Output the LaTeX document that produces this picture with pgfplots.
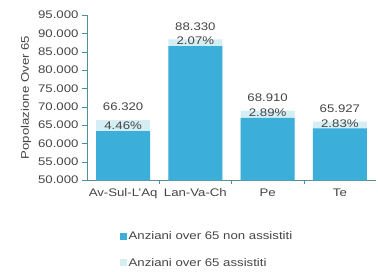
\documentclass[border=0pt]{standalone}
\usepackage{fontspec}
\setmainfont{Liberation Sans}[FakeStretch=1.2]
\usepackage{pgfplots}
\pgfplotsset{compat=1.18}
\usepackage{pgfplotstable}
\definecolor{barblue}{HTML}{3BAFD9}
\definecolor{barlight}{HTML}{D4EEF4}
\definecolor{axiscol}{HTML}{4F8F9C}
\definecolor{txt}{HTML}{444444}
\pgfplotstableread{
x non total tot pct
0 63362 66320 66.320 4.46
1 86502 88330 88.330 2.07
2 66919 68910 68.910 2.89
3 64061 65927 65.927 2.83
}\data
\begin{document}
\begin{tikzpicture}
\begin{axis}[
  scale only axis, width=289pt, height=165pt,
  ybar, bar width=54pt, bar shift=0pt,
  xmin=-0.5, xmax=3.5, ymin=50000, ymax=95000,
  ytick={50000,55000,...,95000},
  scaled y ticks=false,
  yticklabel style={/pgf/number format/.cd, 1000 sep={.}, fixed},
  /pgf/number format/assume math mode=true,
  xtick={0,1,2,3}, xticklabels={Av-Sul-L'Aq, Lan-Va-Ch, Pe, Te},
  minor xtick={0.5,1.5,2.5},
  major x tick style={draw=none},
  minor x tick style={draw=axiscol},
  y tick style={draw=axiscol},
  axis x line*=bottom, axis y line*=left,
  axis line style={draw=axiscol, line width=0.8pt},
  tick align=outside, major tick length=5pt, minor tick length=4pt,
  ticklabel style={font=\fontsize{11}{13}\selectfont, text=txt},
  ylabel={Popolazione Over 65},
  ylabel style={font=\fontsize{11}{13}\selectfont, text=txt, xshift=0pt},
  legend style={at={(0.415,-0.30)}, anchor=north, draw=none, fill=none,
    font=\fontsize{11}{13}\selectfont, text=txt, row sep=13pt,
    inner sep=0pt},
  legend cell align=left,
  legend image code/.code={\fill[#1,draw=none] (0pt,-3.5pt) rectangle (7pt,3.5pt);},
  reverse legend,
]
\addplot[fill=barlight, draw=none,
  point meta=explicit symbolic,
  nodes near coords={\pgfplotspointmeta},
  every node near coord/.append style={anchor=center, yshift=13pt,
    font=\fontsize{11}{13}\selectfont, text=txt}
  ] table[x=x, y=total, meta=tot] {\data};
\addplot[fill=barblue, draw=none,
  point meta=explicit symbolic,
  nodes near coords={\pgfplotspointmeta\%},
  every node near coord/.append style={anchor=center, yshift=5pt,
    font=\fontsize{11}{13}\selectfont, text=txt}
  ] table[x=x, y=non, meta=pct] {\data};
\legend{Anziani over 65 assistiti, Anziani over 65 non assistiti}
\end{axis}
\pgfresetboundingbox
\path (current axis.south west) ++(-87pt,-91pt) rectangle ++(378pt,271pt);
\end{tikzpicture}
\end{document}
